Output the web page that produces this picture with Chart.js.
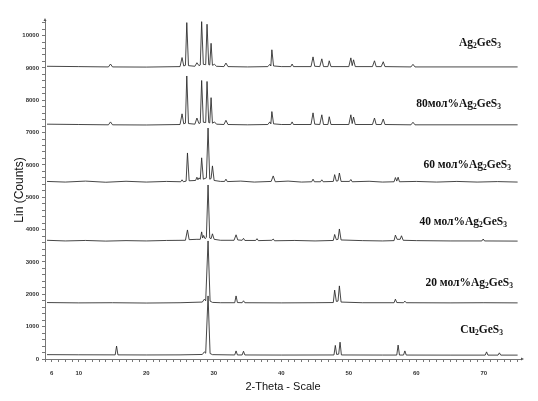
<!DOCTYPE html>
<html><head><meta charset="utf-8">
<script src="https://cdn.jsdelivr.net/npm/chart.js@4"></script>
<style>html,body{margin:0;padding:0;background:#fff}#wrap{width:538px;height:401px;position:relative}</style>
</head><body><div id="wrap"><canvas id="c" width="538" height="401"></canvas></div>
<script>
// ---- data: [2-theta (deg), intensity (counts)] ----
const seriesNames = ['Ag2GeS3','80мол%Ag2GeS3','60 мол%Ag2GeS3','40 мол%Ag2GeS3','20 мол%Ag2GeS3','Cu2GeS3'];
const ag2ges3 = [[5.3,9050],[10,9040],[14.4,9030],[14.7,9120],[15.0,9030],[20,9025],[25.0,9040],[25.3,9320],[25.55,9060],[25.8,9080],[26.0,10400],[26.25,9070],[27.2,9050],[27.5,9160],[27.8,9070],[28.0,9090],[28.2,10430],[28.45,9110],[28.8,9100],[29.0,10350],[29.25,9100],[29.4,9090],[29.6,9760],[29.8,9080],[30.1,9110],[30.4,9050],[31.5,9040],[31.8,9150],[32.1,9040],[35,9030],[38.0,9040],[38.3,9110],[38.45,9060],[38.6,9560],[38.85,9060],[40,9040],[41.4,9040],[41.6,9120],[41.8,9040],[44.4,9040],[44.7,9340],[44.95,9050],[45.7,9040],[46.0,9280],[46.25,9040],[46.9,9040],[47.1,9220],[47.35,9040],[50.0,9040],[50.3,9310],[50.5,9070],[50.7,9250],[50.95,9040],[53.5,9040],[53.8,9220],[54.05,9040],[54.8,9040],[55.1,9190],[55.35,9040],[59.2,9030],[59.5,9110],[59.8,9030],[75,9030]];
const mol80 = [[5.3,7260],[10,7250],[14.4,7240],[14.7,7330],[15.0,7240],[20,7235],[25.0,7250],[25.3,7580],[25.55,7270],[25.8,7290],[26.0,8750],[26.25,7280],[27.2,7260],[27.5,7450],[27.8,7280],[28.0,7300],[28.2,8610],[28.45,7320],[28.8,7310],[29.0,8580],[29.25,7310],[29.4,7300],[29.6,8080],[29.8,7290],[30.1,7330],[30.4,7260],[31.5,7250],[31.8,7380],[32.1,7250],[35,7240],[38.0,7250],[38.3,7330],[38.45,7270],[38.6,7650],[38.85,7270],[40,7250],[41.4,7250],[41.6,7330],[41.8,7250],[44.4,7250],[44.7,7610],[44.95,7260],[45.7,7250],[46.0,7550],[46.25,7250],[46.9,7250],[47.1,7490],[47.35,7250],[50.0,7250],[50.3,7550],[50.5,7280],[50.7,7480],[50.95,7250],[53.5,7250],[53.8,7450],[54.05,7250],[54.8,7250],[55.1,7420],[55.35,7250],[59.2,7240],[59.5,7320],[59.8,7240],[75,7240]];
const mol60 = [[5.3,5490],[8,5470],[11,5500],[14,5465],[17,5495],[20,5470],[23,5490],[25.1,5480],[25.3,5540],[25.5,5480],[25.9,5500],[26.1,6370],[26.35,5510],[27.3,5520],[27.5,5620],[27.65,5540],[27.8,5600],[28.0,5560],[28.2,6220],[28.45,5560],[28.9,5600],[29.15,7140],[29.4,5560],[29.6,5580],[29.8,5970],[30.05,5520],[31.0,5490],[31.6,5490],[31.8,5560],[32.0,5485],[34,5500],[36,5470],[38.5,5490],[38.8,5660],[39.1,5480],[41,5500],[43,5470],[44.5,5480],[44.7,5560],[44.9,5480],[45.8,5480],[46.0,5540],[46.2,5480],[47.7,5490],[47.9,5700],[48.15,5500],[48.4,5510],[48.6,5750],[48.85,5490],[50.1,5490],[50.3,5550],[50.5,5480],[53,5495],[55,5470],[56.7,5480],[56.9,5610],[57.1,5500],[57.3,5620],[57.5,5480],[60,5490],[63,5470],[66,5490],[69,5470],[72,5485],[75,5470]];
const mol40 = [[5.3,3670],[8,3650],[11,3665],[14,3645],[17,3660],[20,3650],[23,3665],[25.8,3670],[26.1,3990],[26.35,3690],[27.5,3700],[28.0,3700],[28.2,3930],[28.35,3740],[28.5,3820],[28.7,3720],[28.9,3760],[29.15,5380],[29.4,3740],[29.6,3720],[29.8,3870],[30.05,3700],[31,3670],[33.0,3670],[33.3,3840],[33.55,3680],[34.2,3670],[34.4,3730],[34.6,3665],[36.2,3665],[36.4,3720],[36.6,3660],[38.6,3670],[38.8,3710],[39.0,3655],[42,3665],[45,3650],[47.7,3665],[47.9,3850],[48.15,3690],[48.4,3700],[48.6,4020],[48.85,3680],[52,3660],[55,3650],[56.7,3660],[56.9,3830],[57.15,3700],[57.6,3700],[57.8,3810],[58.05,3670],[60,3660],[65,3650],[69.7,3650],[69.9,3710],[70.1,3650],[75,3645]];
const mol20 = [[5.3,1745],[10,1735],[15,1740],[20,1730],[25,1740],[28.3,1760],[28.6,1850],[28.8,1800],[29.15,3650],[29.45,1790],[29.8,1750],[31,1740],[33.1,1740],[33.3,1950],[33.5,1745],[34.2,1740],[34.4,1800],[34.6,1740],[40,1735],[45,1740],[47.7,1745],[47.9,2130],[48.15,1780],[48.4,1790],[48.6,2260],[48.85,1760],[52,1740],[56.7,1740],[56.9,1850],[57.1,1745],[58.1,1740],[58.3,1790],[58.5,1740],[65,1735],[70,1740],[75,1735]];
const cu2ges3 = [[5.3,135],[10,130],[15.4,128],[15.6,400],[15.8,128],[20,125],[25,128],[28.3,140],[28.6,220],[28.8,180],[29.15,1950],[29.45,170],[29.8,135],[33.1,125],[33.3,250],[33.5,125],[34.2,125],[34.4,240],[34.6,125],[40,122],[47.8,125],[48.0,420],[48.2,140],[48.5,150],[48.7,520],[48.9,125],[55,122],[57.1,122],[57.3,430],[57.5,122],[58.1,122],[58.3,250],[58.5,122],[65,120],[70.2,120],[70.4,220],[70.6,120],[72.1,120],[72.3,190],[72.5,120],[75,120]];
const seriesData = [ag2ges3, mol80, mol60, mol40, mol20, cu2ges3];

// ---- axis tick labels ----
const thetaLabels = [6,10,20,30,40,50,60,70];
const countLabels = [0,1000,2000,3000,4000,5000,6000,7000,8000,9000,10000];
const X_MIN = 5, X_MAX = 75.5, Y_MIN = 0, Y_MAX = 10450;

const datasets = seriesData.map((s, i) => ({
  label: seriesNames[i],
  data: s.map(p => ({x: p[0], y: p[1]})),
  borderColor: '#262626',
  borderWidth: 0.85,
  pointRadius: 0,
  tension: 0,
  fill: false
}));

// labels drawn at the right of each trace (text with subscripts)
const seriesLabelParts = [
  [['Ag',0],['2',1],['GeS',0],['3',1]],
  [['80мол%Ag',0],['2',1],['GeS',0],['3',1]],
  [['60 мол%Ag',0],['2',1],['GeS',0],['3',1]],
  [['40 мол%Ag',0],['2',1],['GeS',0],['3',1]],
  [['20 мол%Ag',0],['2',1],['GeS',0],['3',1]],
  [['Cu',0],['2',1],['GeS',0],['3',1]]
];
const labelPlugin = {
  id: 'seriesLabels',
  afterDraw(chart) {
    const ctx = chart.ctx;
    const anchors = [[501,43],[501,104],[511,165],[507,222],[513,283],[503,330]];
    const big = 'bold 11.5px "Liberation Serif", "Times New Roman", serif';
    const small = 'bold 7.5px "Liberation Serif", "Times New Roman", serif';
    ctx.save();
    ctx.fillStyle = '#111';
    ctx.textBaseline = 'middle';
    ctx.textAlign = 'left';
    seriesLabelParts.forEach((parts, i) => {
      let w = 0;
      parts.forEach(([t, sub]) => { ctx.font = sub ? small : big; w += ctx.measureText(t).width; });
      let x = anchors[i][0] - w;
      const y = anchors[i][1];
      parts.forEach(([t, sub]) => {
        ctx.font = sub ? small : big;
        ctx.fillText(t, x, sub ? y + 3 : y);
        x += ctx.measureText(t).width;
      });
    });
    // axis arrow heads
    const xa = chart.scales.x, ya = chart.scales.y;
    ctx.fillStyle = '#555';
    const x0 = xa.right, y0 = ya.getPixelForValue(0);
    ctx.beginPath(); ctx.moveTo(x0 + 3, y0); ctx.lineTo(x0, y0 - 1.5); ctx.lineTo(x0, y0 + 1.5); ctx.closePath(); ctx.fill();
    const xl = xa.left, yt = ya.top;
    ctx.beginPath(); ctx.moveTo(xl, yt - 3); ctx.lineTo(xl - 1.5, yt); ctx.lineTo(xl + 1.5, yt); ctx.closePath(); ctx.fill();
    ctx.restore();
  }
};

new Chart(document.getElementById('c'), {
  type: 'line',
  data: { datasets },
  plugins: [labelPlugin],
  options: {
    responsive: false,
    animation: false,
    devicePixelRatio: 1,
    layout: { padding: { top: 21, right: 17, left: 0, bottom: 0 } },
    plugins: { legend: { display: false }, tooltip: { enabled: false } },
    scales: {
      x: {
        type: 'linear', min: X_MIN, max: X_MAX,
        afterFit(s) { s.height = 42; },
        afterBuildTicks(s) {
          const t = [];
          for (let v = 5; v <= 75; v++) t.push({value: v});
          s.ticks = t;
        },
        ticks: {
          autoSkip: false, maxRotation: 0, padding: 8,
          color: '#333', font: { size: 6, family: '"Liberation Sans", Arial, sans-serif', weight: 'bold' },
          callback: v => thetaLabels.includes(v) ? String(v) : ''
        },
        grid: { drawOnChartArea: false, drawTicks: true, tickLength: 3, tickColor: '#777' },
        border: { display: true, color: '#777', width: 1 },
        title: { display: true, text: '2-Theta - Scale', color: '#111',
          font: { size: 11, family: '"Liberation Sans", Arial, sans-serif' }, padding: { top: 0, bottom: 7 } }
      },
      y: {
        type: 'linear', min: Y_MIN, max: Y_MAX,
        afterFit(s) { s.width = 45; },
        afterBuildTicks(s) {
          const t = [];
          for (let v = 0; v <= 10400; v += 200) t.push({value: v});
          s.ticks = t;
        },
        ticks: {
          autoSkip: false, padding: 3,
          color: '#333', font: { size: 6, family: '"Liberation Sans", Arial, sans-serif', weight: 'bold' },
          callback: v => countLabels.includes(v) ? String(v) : ''
        },
        grid: { drawOnChartArea: false, drawTicks: true, tickLength: 3, tickColor: '#777' },
        border: { display: true, color: '#777', width: 1 },
        title: { display: true, text: 'Lin (Counts)', color: '#111',
          font: { size: 12, family: '"Liberation Sans", Arial, sans-serif' }, padding: { top: 12, bottom: 0 } }
      }
    }
  }
});
</script></body></html>
